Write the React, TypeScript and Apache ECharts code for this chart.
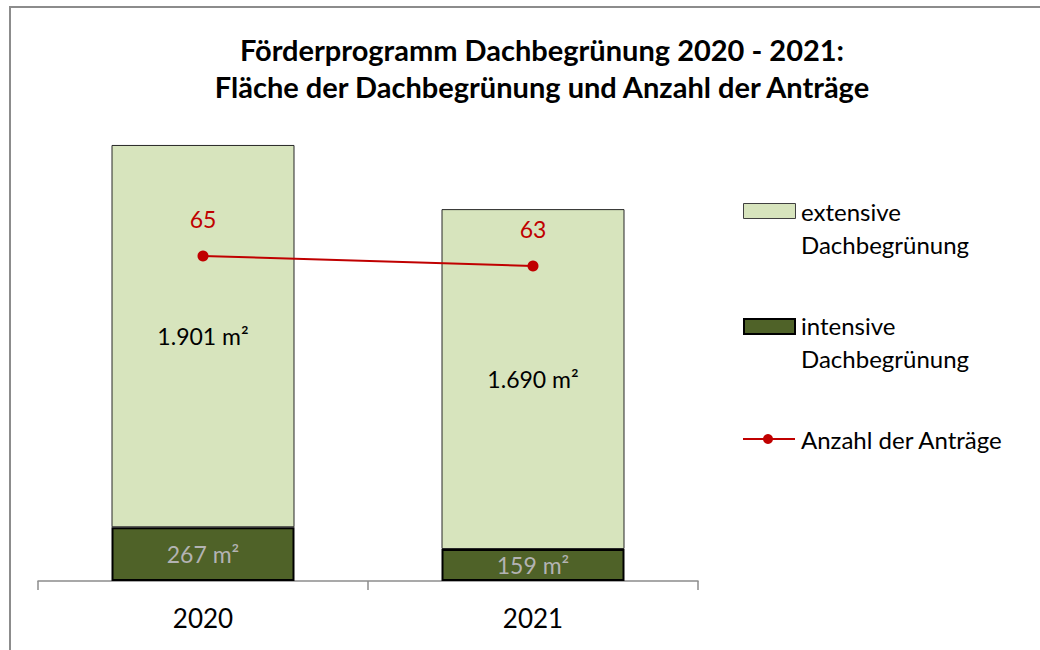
import React, { useEffect, useRef } from "react";
import * as echarts from "echarts";

const categories = ["2020", "2021"];
const intensiveValues = [267, 159];
const extensiveValues = [1901, 1690];
const antraegeValues = [65, 63];
const titleLines = ["Förderprogramm Dachbegrünung 2020 - 2021:", "Fläche der Dachbegrünung und Anzahl der Anträge"];
const legendNames = ["extensive\nDachbegrünung", "intensive\nDachbegrünung", "Anzahl der Anträge"];

const FONT = "Lato, 'Open Sans', sans-serif";

function fmtM2(v: number) {
  const s = String(v);
  const withDots = s.replace(/\B(?=(\d{3})+(?!\d))/g, ".");
  return withDots + " m²";
}

export default function App() {
  const ref = useRef<HTMLDivElement>(null);
  useEffect(() => {
    if (!ref.current) return;
    const chart = echarts.init(ref.current, null, { renderer: "svg" });
    const [ext1, ext2] = legendNames[0].split("\n");
    const [int1, int2] = legendNames[1].split("\n");
    const legText = (t: string, y: number) => ({
      type: "text",
      x: 801,
      y,
      style: { text: t, fontFamily: FONT, fontSize: 24, fill: "#000", verticalAlign: "middle" },
    });
    chart.setOption({
      animation: false,
      backgroundColor: "#ffffff",
      textStyle: { fontFamily: FONT },
      title: {
        text: titleLines.join("\n"),
        left: 537,
        top: 26,
        textAlign: "center",
        textStyle: { fontFamily: FONT, fontSize: 29, fontWeight: "bold", color: "#000", lineHeight: 37 },
      },
      grid: { left: 38, right: 342, top: 81, bottom: 69 },
      xAxis: {
        type: "category",
        data: categories,
        axisLine: { show: true, lineStyle: { color: "#8c8c8c", width: 1.5 } },
        axisTick: { show: true, length: 9, alignWithLabel: false, lineStyle: { color: "#8c8c8c", width: 1.5 } },
        axisLabel: { fontFamily: FONT, fontSize: 26, color: "#000", margin: 24 },
      },
      yAxis: [
        { type: "value", min: 0, max: 2486, show: false, splitLine: { show: false } },
        { type: "value", min: 0, max: 100, show: false, splitLine: { show: false } },
      ],
      series: [
        {
          name: "intensive",
          type: "bar",
          stack: "a",
          barWidth: 183,
          data: intensiveValues,
          itemStyle: { color: "#4f6228", borderColor: "#000", borderWidth: 2 },
          label: {
            show: true,
            position: "inside",
            formatter: (p: any) => fmtM2(p.value),
            fontFamily: FONT,
            fontSize: 23,
            color: "#b3b3b3",
          },
        },
        {
          name: "extensive",
          type: "bar",
          stack: "a",
          barWidth: 183,
          data: extensiveValues,
          itemStyle: { color: "#d7e4bd", borderColor: "#262626", borderWidth: 1 },
          label: {
            show: true,
            position: "inside",
            formatter: (p: any) => fmtM2(p.value),
            fontFamily: FONT,
            fontSize: 23,
            color: "#000",
          },
        },
        {
          name: "Anzahl",
          type: "line",
          yAxisIndex: 1,
          data: antraegeValues,
          symbol: "circle",
          symbolSize: 11,
          lineStyle: { color: "#c00000", width: 2 },
          itemStyle: { color: "#c00000" },
          label: {
            show: true,
            position: "top",
            distance: 20,
            fontFamily: FONT,
            fontSize: 23,
            color: "#c00000",
          },
        },
      ],
      graphic: [
        {
          type: "rect",
          shape: { x: 10, y: 7, width: 1100, height: 700 },
          style: { fill: "none", stroke: "#8c8c8c", lineWidth: 2 },
          silent: true,
          z: -10,
        },
        {
          type: "rect",
          shape: { x: 743.5, y: 203.5, width: 52, height: 15 },
          style: { fill: "#d7e4bd", stroke: "#404040", lineWidth: 1 },
        },
        {
          type: "rect",
          shape: { x: 744, y: 319, width: 51, height: 15 },
          style: { fill: "#4f6228", stroke: "#000", lineWidth: 2 },
        },
        {
          type: "line",
          shape: { x1: 743, y1: 439, x2: 795, y2: 439 },
          style: { stroke: "#c00000", lineWidth: 2 },
        },
        {
          type: "circle",
          shape: { cx: 768, cy: 439, r: 5 },
          style: { fill: "#c00000" },
        },
        legText(ext1, 211),
        legText(ext2, 244),
        legText(int1, 325),
        legText(int2, 358),
        legText(legendNames[2], 439),
      ],
    });
    return () => chart.dispose();
  }, []);
  return (
    <div
      ref={ref}
      style={{ position: "fixed", left: 0, top: 0, width: 1040, height: 650 }}
    />
  );
}
